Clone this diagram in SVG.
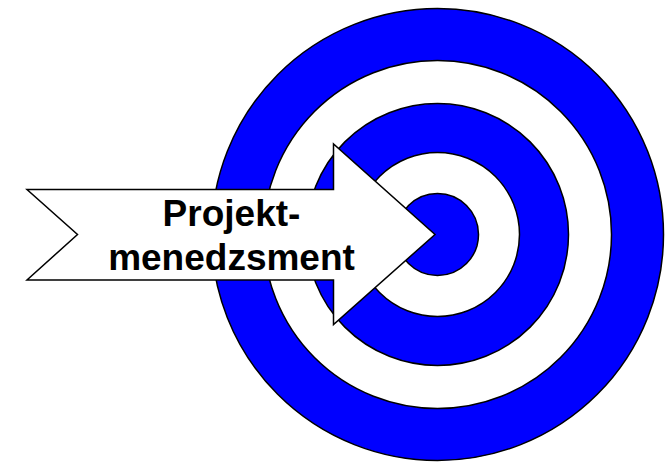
<svg xmlns="http://www.w3.org/2000/svg" width="672" height="463" viewBox="0 0 672 463">
<style>
.b{fill:#0000ff;stroke:#000;stroke-width:1.5}
.w{fill:#fff;stroke:#000;stroke-width:1.5}
.t{font-family:"Liberation Sans",Arial,sans-serif;font-weight:bold;font-size:37px;fill:#000;text-anchor:middle}
</style>
<rect width="672" height="463" fill="#fff"/>
<g id="target">
<circle class="b" cx="437.5" cy="234.5" r="226"/>
<circle class="w" cx="437.5" cy="234.5" r="174"/>
<circle class="b" cx="437.5" cy="234.5" r="131"/>
<circle class="w" cx="437.5" cy="234.5" r="82"/>
<circle class="b" cx="437.5" cy="234.5" r="41"/>
</g>
<g id="arrow">
<polygon class="w" points="27,189.5 333.5,189.5 333.5,144 435,234.5 333.5,324.5 333.5,280 27,280 77.5,234.5"/>
<text class="t" x="231.5" y="226">Projekt-</text>
<text class="t" x="231.5" y="270">menedzsment</text>
</g>
</svg>
